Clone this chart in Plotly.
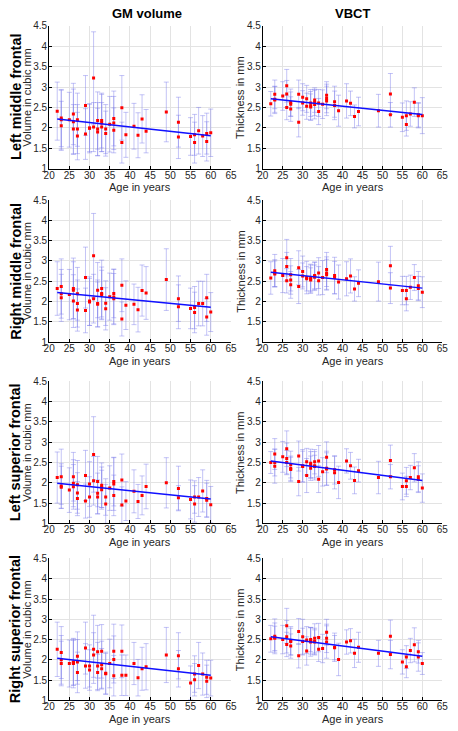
import plotly.graph_objects as go

W, H = 458, 731

ages = [22, 23, 23, 23, 25, 26, 26, 26, 27, 27, 27, 29, 29, 30, 30, 31, 31, 32, 32, 32,
        33, 33, 33, 34, 34, 35, 36, 36, 36, 38, 38, 39, 41, 42, 43, 44, 49, 52, 52, 55,
        56, 56, 57, 58, 59, 59, 60]

gm_left_middle = [2.41, 2.24, 2.2, 2.05, 2.2, 2.34, 2.15, 1.97, 2.2, 1.97, 1.8, 2.55, 1.85, 1.99, 2.0,
                  3.22, 2.02, 2.18, 1.97, 1.9, 2.18, 2.12, 2.02, 1.97, 1.86, 2.09, 2.23, 2.12, 1.94,
                  2.49, 1.64, 1.83, 2.04, 1.82, 2.22, 1.92, 2.39, 2.14, 1.78, 1.79, 1.83, 1.64, 1.93,
                  1.8, 1.86, 1.67, 1.88]
gm_left_middle_err = [0.71, 0.7, 0.72, 0.6, 0.67, 0.75, 0.8, 0.6, 0.65, 0.6, 0.58, 0.73, 0.62, 0.6, 0.58,
                      1.13, 0.6, 0.7, 0.65, 0.58, 0.67, 0.7, 0.6, 0.6, 0.55, 0.68, 0.67, 0.65, 0.55,
                      0.79, 0.5, 0.55, 0.56, 0.55, 0.59, 0.53, 0.73, 0.61, 0.53, 0.46, 0.5, 0.5, 0.57,
                      0.5, 0.5, 0.48, 0.58]

vbct_left_middle = [2.59, 2.82, 2.7, 2.68, 2.78, 3.03, 2.83, 2.5, 2.62, 2.58, 2.46, 2.82, 2.14, 2.75, 2.61,
                    2.71, 2.53, 2.61, 2.54, 2.51, 2.68, 2.62, 2.57, 2.61, 2.4, 2.58, 2.8, 2.72, 2.66,
                    2.64, 2.55, 2.42, 2.66, 2.6, 2.28, 2.4, 2.42, 2.83, 2.32, 2.26, 2.3, 2.08, 2.34,
                    2.63, 2.32, 2.3, 2.3]
vbct_left_middle_err = [0.3, 0.35, 0.32, 0.33, 0.35, 0.4, 0.33, 0.3, 0.33, 0.3, 0.3, 0.35, 0.36, 0.33, 0.3,
                        0.33, 0.32, 0.33, 0.35, 0.32, 0.3, 0.32, 0.35, 0.33, 0.32, 0.35, 0.33, 0.35, 0.36,
                        0.38, 0.35, 0.38, 0.42, 0.3, 0.28, 0.35, 0.4, 0.5, 0.3, 0.35, 0.36, 0.28, 0.3,
                        0.35, 0.3, 0.3, 0.44]

gm_right_middle = [2.32, 2.37, 2.19, 2.09, 2.17, 2.32, 2.28, 2.01, 2.19, 1.95, 1.79, 2.59, 1.78, 2.01, 1.99,
                   3.13, 2.07, 2.28, 1.95, 1.93, 2.32, 2.2, 2.17, 1.96, 1.82, 2.12, 2.2, 2.11, 2.07,
                   2.4, 1.57, 1.91, 1.93, 1.8, 2.27, 2.21, 2.54, 2.07, 1.87, 1.83, 1.85, 1.73, 1.95,
                   1.95, 2.09, 1.62, 1.74]
gm_right_middle_err = [0.66, 0.68, 0.6, 0.58, 0.62, 0.75, 0.7, 0.65, 0.65, 0.58, 0.52, 0.75, 0.55, 0.6, 0.58,
                       1.04, 0.6, 0.68, 0.58, 0.55, 0.7, 0.65, 0.6, 0.55, 0.52, 0.58, 0.6, 0.68, 0.62,
                       0.65, 0.42, 0.6, 0.5, 0.55, 0.63, 0.65, 0.76, 0.56, 0.54, 0.5, 0.52, 0.5, 0.55,
                       0.55, 0.58, 0.45, 0.48]

vbct_right_middle = [2.58, 2.76, 2.7, 2.68, 2.64, 3.08, 2.86, 2.51, 2.66, 2.53, 2.41, 2.83, 2.37, 2.74, 2.63,
                     2.59, 2.56, 2.59, 2.55, 2.53, 2.64, 2.62, 2.6, 2.7, 2.51, 2.59, 2.79, 2.7, 2.66,
                     2.64, 2.59, 2.48, 2.56, 2.63, 2.31, 2.45, 2.49, 2.88, 2.33, 2.27, 2.27, 2.07, 2.35,
                     2.59, 2.39, 2.32, 2.23]
vbct_right_middle_err = [0.4, 0.4, 0.33, 0.32, 0.42, 0.45, 0.35, 0.3, 0.4, 0.35, 0.33, 0.42, 0.42, 0.38, 0.32,
                         0.4, 0.3, 0.33, 0.35, 0.3, 0.33, 0.35, 0.3, 0.38, 0.35, 0.42, 0.42, 0.4, 0.38,
                         0.45, 0.4, 0.42, 0.42, 0.42, 0.3, 0.33, 0.48, 0.48, 0.38, 0.35, 0.35, 0.3, 0.3,
                         0.32, 0.35, 0.3, 0.38]

gm_left_superior = [2.13, 2.15, 1.92, 1.89, 1.82, 2.15, 1.99, 1.9, 1.95, 1.75, 1.61, 2.18, 1.55, 1.97, 1.65,
                    2.7, 2.05, 2.03, 1.74, 1.65, 1.94, 1.89, 1.83, 1.65, 1.48, 1.87, 2.03, 1.97, 1.69,
                    2.07, 1.45, 1.55, 1.79, 1.54, 1.69, 1.91, 2.0, 1.86, 1.63, 1.59, 1.65, 1.48, 1.65,
                    1.8, 1.61, 1.57, 1.46]
gm_left_superior_err = [0.63, 0.68, 0.55, 0.52, 0.55, 0.6, 0.58, 0.55, 0.6, 0.5, 0.42, 0.62, 0.42, 0.55, 0.5,
                        0.93, 0.6, 0.62, 0.5, 0.42, 0.55, 0.5, 0.48, 0.45, 0.48, 0.55, 0.6, 0.65, 0.5,
                        0.64, 0.45, 0.48, 0.53, 0.42, 0.48, 0.55, 0.62, 0.55, 0.3, 0.48, 0.4, 0.45, 0.48,
                        0.52, 0.45, 0.42, 0.45]

vbct_left_superior = [2.5, 2.71, 2.5, 2.41, 2.64, 2.84, 2.6, 2.5, 2.45, 2.36, 2.33, 2.66, 2.03, 2.42, 2.4,
                      2.52, 2.18, 2.48, 2.44, 2.36, 2.52, 2.42, 2.4, 2.54, 2.09, 2.27, 2.63, 2.36, 2.34,
                      2.32, 2.25, 2.01, 2.54, 2.42, 2.06, 2.3, 2.13, 2.55, 2.15, 1.91, 2.05, 1.91, 2.13,
                      2.37, 2.15, 2.09, 1.87]
vbct_left_superior_err = [0.27, 0.38, 0.33, 0.42, 0.38, 0.44, 0.38, 0.3, 0.33, 0.3, 0.3, 0.37, 0.35, 0.4, 0.38,
                          0.33, 0.42, 0.35, 0.33, 0.3, 0.3, 0.35, 0.28, 0.38, 0.33, 0.35, 0.38, 0.42, 0.4,
                          0.35, 0.4, 0.4, 0.3, 0.33, 0.33, 0.28, 0.4, 0.38, 0.3, 0.33, 0.33, 0.25, 0.3,
                          0.35, 0.37, 0.33, 0.35]

gm_right_superior = [2.26, 2.18, 2.0, 1.91, 1.91, 1.95, 1.93, 1.91, 2.09, 1.95, 1.69, 2.29, 1.85, 1.85, 1.75,
                     2.26, 2.12, 2.2, 1.85, 1.69, 2.21, 1.88, 1.78, 1.67, 1.66, 1.91, 2.21, 2.01, 1.61,
                     2.21, 1.62, 1.62, 1.91, 1.56, 1.78, 1.83, 2.12, 2.1, 1.78, 1.43, 1.65, 1.51, 1.86,
                     1.65, 1.57, 1.47, 1.55]
gm_right_superior_err = [0.67, 0.64, 0.6, 0.55, 0.58, 0.58, 0.55, 0.6, 0.6, 0.55, 0.5, 0.64, 0.55, 0.52, 0.5,
                         0.84, 0.55, 0.65, 0.58, 0.45, 0.66, 0.58, 0.5, 0.52, 0.5, 0.6, 0.67, 0.58, 0.5,
                         0.65, 0.5, 0.5, 0.52, 0.45, 0.53, 0.57, 0.68, 0.57, 0.45, 0.42, 0.45, 0.4, 0.57,
                         0.52, 0.42, 0.4, 0.44]

vbct_right_superior = [2.52, 2.58, 2.55, 2.53, 2.5, 2.84, 2.57, 2.38, 2.47, 2.45, 2.34, 2.7, 2.1, 2.57, 2.45,
                       2.49, 2.22, 2.5, 2.47, 2.44, 2.53, 2.45, 2.44, 2.55, 2.26, 2.28, 2.68, 2.53, 2.44,
                       2.31, 2.3, 2.01, 2.44, 2.47, 2.16, 2.31, 2.16, 2.58, 2.13, 1.95, 2.07, 1.83, 2.23,
                       2.37, 2.2, 2.07, 1.91]
vbct_right_superior_err = [0.33, 0.43, 0.36, 0.3, 0.35, 0.43, 0.4, 0.3, 0.35, 0.33, 0.3, 0.32, 0.3, 0.43, 0.33,
                           0.33, 0.35, 0.3, 0.33, 0.35, 0.36, 0.33, 0.3, 0.35, 0.3, 0.35, 0.32, 0.35, 0.4,
                           0.35, 0.3, 0.4, 0.3, 0.3, 0.35, 0.37, 0.32, 0.4, 0.35, 0.3, 0.28, 0.27, 0.3,
                           0.42, 0.28, 0.35, 0.27]

trend_ages = [22, 60]
trend_gm_left_middle = [2.22, 1.81]
trend_vbct_left_middle = [2.71, 2.33]
trend_gm_right_middle = [2.22, 1.86]
trend_vbct_right_middle = [2.72, 2.33]
trend_gm_left_superior = [1.99, 1.60]
trend_vbct_left_superior = [2.54, 2.06]
trend_gm_right_superior = [2.04, 1.62]
trend_vbct_right_superior = [2.57, 2.09]

row_labels = ["Left middle frontal", "Right middle frontal", "Left superior frontal", "Right superior frontal"]
col_titles = ["GM volume", "VBCT"]
y_titles = ["Volume in cubic mm", "Thickness in mm"]
x_title = "Age in years"
x_ticks = [20, 25, 30, 35, 40, 45, 50, 55, 60, 65]
y_ticks = [1, 1.5, 2, 2.5, 3, 3.5, 4, 4.5]

panels = [
    (gm_left_middle, gm_left_middle_err, trend_gm_left_middle),
    (vbct_left_middle, vbct_left_middle_err, trend_vbct_left_middle),
    (gm_right_middle, gm_right_middle_err, trend_gm_right_middle),
    (vbct_right_middle, vbct_right_middle_err, trend_vbct_right_middle),
    (gm_left_superior, gm_left_superior_err, trend_gm_left_superior),
    (vbct_left_superior, vbct_left_superior_err, trend_vbct_left_superior),
    (gm_right_superior, gm_right_superior_err, trend_gm_right_superior),
    (vbct_right_superior, vbct_right_superior_err, trend_vbct_right_superior),
]

# pixel layout
col_px = [(44.3, 231.0), (263.7, 448.0)]
row_px = [(20.0, 165.5), (197.3, 341.7), (381.7, 526.0), (561.7, 706.0)]

FONT = "Liberation Sans, Arial, Helvetica, sans-serif"

def px_x(p):
    return p / W

def px_y(p):
    return 1 - p / H

fig = go.Figure()
layout = {}
annotations = []

for i, (vals, errs, trend) in enumerate(panels):
    r, c = divmod(i, 2)
    n = i + 1
    xa = "x" if n == 1 else f"x{n}"
    ya = "y" if n == 1 else f"y{n}"
    m = min(len(ages), len(vals), len(errs))
    fig.add_trace(go.Scatter(
        x=ages[:m], y=vals[:m], mode="markers",
        marker=dict(symbol="square", size=3, color="#ff0000", line=dict(width=0)),
        error_y=dict(type="data", array=errs[:m], visible=True,
                     color="rgba(125,125,235,0.45)", thickness=1, width=2.5),
        xaxis=xa, yaxis=ya, showlegend=False, hoverinfo="skip"))
    fig.add_trace(go.Scatter(
        x=trend_ages, y=trend, mode="lines",
        line=dict(color="#1010ff", width=1.5),
        xaxis=xa, yaxis=ya, showlegend=False, hoverinfo="skip"))

    x0, x1 = col_px[c]
    t, b = row_px[r]
    axkey = "xaxis" if n == 1 else f"xaxis{n}"
    aykey = "yaxis" if n == 1 else f"yaxis{n}"
    layout[axkey] = dict(
        domain=[px_x(x0), px_x(x1)], anchor=ya, range=[20, 65],
        tickvals=x_ticks, ticktext=[str(v) for v in x_ticks],
        showgrid=True, gridcolor="#e3e3e3", gridwidth=1, zeroline=False,
        showline=True, linecolor="#000000", linewidth=1, mirror=False,
        ticks="inside", ticklen=3, tickcolor="#000000", ticklabelstandoff=-3,
        tickfont=dict(family=FONT, size=10, color="#262626"),
        fixedrange=True)
    layout[aykey] = dict(
        domain=[px_y(b), px_y(t)], anchor=xa, range=[1, 4.5],
        tickvals=y_ticks, ticktext=[("%g" % v) for v in y_ticks],
        showgrid=True, gridcolor="#e3e3e3", gridwidth=1, zeroline=False,
        showline=True, linecolor="#000000", linewidth=1, mirror=False,
        ticks="inside", ticklen=3, tickcolor="#000000", ticklabelstandoff=-1,
        tickfont=dict(family=FONT, size=10, color="#262626"),
        fixedrange=True)

    # x axis title
    annotations.append(dict(
        text=x_title, x=px_x((x0 + x1) / 2), y=px_y(b + 19), xref="paper", yref="paper",
        showarrow=False, xanchor="center", yanchor="middle",
        font=dict(family=FONT, size=11, color="#262626")))
    # y axis title
    yt_x = 22 if c == 0 else 241
    annotations.append(dict(
        text=y_titles[c], x=px_x(yt_x), y=px_y((t + b) / 2), xref="paper", yref="paper",
        showarrow=False, xanchor="center", yanchor="middle", textangle=-90,
        font=dict(family=FONT, size=11, color="#262626")))

# row labels
for r, lab in enumerate(row_labels):
    t, b = row_px[r]
    annotations.append(dict(
        text="<b>%s</b>" % lab, x=px_x(10), y=px_y((t + b) / 2), xref="paper", yref="paper",
        showarrow=False, xanchor="center", yanchor="middle", textangle=-90,
        font=dict(family=FONT, size=14.5, color="#000000")))

# column titles
for c, (title, cx) in enumerate(zip(col_titles, [145, 356])):
    annotations.append(dict(
        text="<b>%s</b>" % title, x=px_x(cx), y=px_y(8), xref="paper", yref="paper",
        showarrow=False, xanchor="center", yanchor="middle",
        font=dict(family=FONT, size=13, color="#000000")))

fig.update_layout(
    width=W, height=H, margin=dict(l=0, r=0, t=0, b=0),
    paper_bgcolor="#ffffff", plot_bgcolor="#ffffff",
    annotations=annotations, showlegend=False, **layout)

fig.write_html("out.html", config={"displayModeBar": False},
               post_script="document.body.style.margin='0px';document.body.style.overflow='hidden';")
